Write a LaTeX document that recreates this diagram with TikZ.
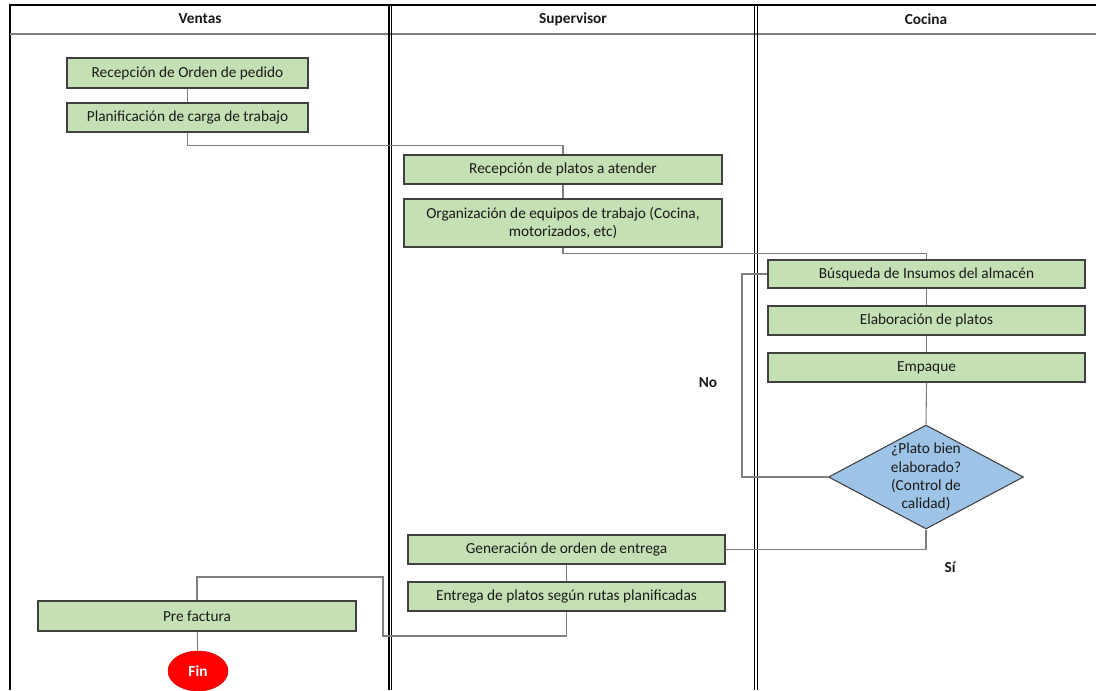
\documentclass[tikz,border=0pt]{standalone}
\usepackage{fontspec}
\setmainfont{Carlito}
\usetikzlibrary{shapes.geometric}
\definecolor{boxgreen}{HTML}{C5E0B4}
\definecolor{boxline}{HTML}{404040}
\definecolor{decblue}{HTML}{9DC3E6}
\definecolor{connc}{HTML}{7F7F7F}
\definecolor{txt}{HTML}{1A1A1A}
\tikzset{
  stepbox/.style={draw=boxline, line width=1pt, fill=boxgreen, inner sep=2pt,
    font=\fontsize{11.5}{14}\selectfont, text=txt, align=center},
  decbox/.style={draw=boxline, line width=0.8pt, fill=decblue, diamond, inner sep=0pt,
    minimum width=146.25pt, minimum height=78pt},
  conn/.style={draw=connc, line width=0.8pt},
  lane/.style={font=\fontsize{11.5}{13}\selectfont\bfseries, text=txt},
  lbl/.style={font=\fontsize{11.5}{13}\selectfont\bfseries, text=txt},
}
\begin{document}
\begin{tikzpicture}[x=0.75pt,y=-0.75pt]
\useasboundingbox (0,0) rectangle (1096,690);
% lanes
\draw[line width=1.8pt] (10,690) -- (10,5) -- (1096,5);
\draw[connc, line width=1pt] (10,34) -- (1096,34);
\draw[line width=0.8pt] (389,5) -- (389,690);
\draw[line width=0.8pt] (391.5,5) -- (391.5,690);
\draw[line width=1.1pt] (754.5,5) -- (754.5,690);
\draw[line width=1.1pt] (757.5,5) -- (757.5,690);
\node[lane] (hv) at (200,19) {Ventas};
\node[lane] (hs) at (573,19) {Supervisor};
\node[lane] (hc) at (926,19) {Cocina};
% nodes
\node[stepbox, minimum width=180.75pt, minimum height=22.5pt] (r1) at (187.5,73) {Recepción de Orden de pedido};
\node[stepbox, minimum width=180.75pt, minimum height=21.75pt] (r2) at (187.5,117.5) {Planificación de carga de trabajo};
\node[stepbox, minimum width=238.5pt, minimum height=21.75pt] (s1) at (563,169.5) {Recepción de platos a atender};
\node[stepbox, minimum width=238.5pt, minimum height=36pt] (s2) at (563,223) {Organización de equipos de trabajo (Cocina,\\motorizados, etc)};
\node[stepbox, minimum width=237.75pt, minimum height=21pt] (c1) at (926.5,274) {Búsqueda de Insumos del almacén};
\node[stepbox, minimum width=237.75pt, minimum height=21.75pt] (c2) at (926.5,320.5) {Elaboración de platos};
\node[stepbox, minimum width=237.75pt, minimum height=21.75pt] (c3) at (926.5,367.5) {Empaque};
\node[decbox, label={[font=\fontsize{11.5}{13.8}\selectfont, text=txt, align=center]center:¿Plato bien\\elaborado?\\(Control de\\calidad)}] (d) at (926,477) {};
\node[stepbox, minimum width=237.75pt, minimum height=21.75pt] (s3) at (566.5,549.5) {Generación de orden de entrega};
\node[stepbox, minimum width=237.75pt, minimum height=21.75pt] (s4) at (566.5,596.5) {Entrega de platos según rutas planificadas};
\node[stepbox, minimum width=238.5pt, minimum height=22.5pt] (v3) at (197,616) {Pre factura};
\node[ellipse, fill=red, draw=red!90!black, minimum width=45pt, minimum height=30pt, inner sep=0pt,
  font=\fontsize{11.5}{13}\selectfont\bfseries, text=white] (fin) at (198,671) {Fin};
\node[lbl] (no) at (708,383) {No};
\node[lbl] (si) at (950,567) {Sí};
% connectors
\draw[conn] (r1) -- (r2);
\draw[conn] (r2.south) -- ++(0,13) -| (s1.north);
\draw[conn] (s1) -- (s2);
\draw[conn] (s2.south) -- ++(0,6) -| (c1.north);
\draw[conn] (c1) -- (c2);
\draw[conn] (c2) -- (c3);
\draw[conn] (c3.south) -- (d.north);
\draw[conn] (d.west) -- ++(-86,0) |- (c1.west);
\draw[conn] (d.south) |- (s3.east);
\draw[conn] (s3) -- (s4);
\coordinate (k1) at (383,636);
\coordinate (k2) at (383,577);
\draw[conn] (s4.south) |- (k1) -- (k2) -| (v3.north);
\draw[conn] (v3) -- (fin);
\end{tikzpicture}
\end{document}
